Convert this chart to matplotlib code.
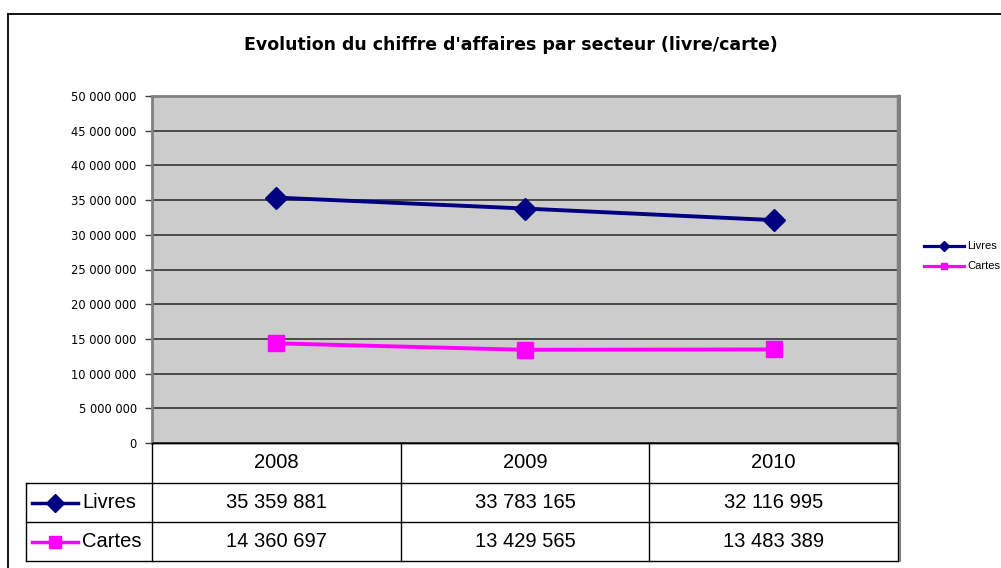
import matplotlib
matplotlib.use("Agg")
from matplotlib import pyplot as plt
from matplotlib.ticker import FuncFormatter, MultipleLocator

# Data
years = ["2008", "2009", "2010"]
livres = [35359881, 33783165, 32116995]
cartes = [14360697, 13429565, 13483389]
series = [("Livres", livres, "#000080", "D"), ("Cartes", cartes, "#FF00FF", "s")]


def fmt(v):
    return f"{int(v):,}".replace(",", " ")


W, H = 1001, 568
fig = plt.figure(figsize=(W / 100, H / 100), dpi=100)

# plot area in pixel coords
px0, px1, py0, py1 = 152, 898, 96, 443
ax = fig.add_axes([px0 / W, 1 - py1 / H, (px1 - px0) / W, (py1 - py0) / H])
ax.set_facecolor("#CCCCCC")
x = list(range(len(years)))
for name, vals, col, mk in series:
    ax.plot(x, vals, color=col, lw=2.8, marker=mk, ms=11, mec=col, mfc=col, zorder=3)

ax.set_xlim(-0.5, len(years) - 0.5)
ax.set_ylim(0, 50000000)
ax.yaxis.set_major_locator(MultipleLocator(5000000))
ax.yaxis.set_major_formatter(FuncFormatter(lambda v, p: fmt(v)))
ax.grid(axis="y", color="#404040", lw=1.3)
ax.set_axisbelow(True)
ax.set_xticks([])
ax.tick_params(axis="y", length=5, width=1, color="#404040", pad=6,
               labelsize=8.3, labelcolor="#000000")
for lab in ax.get_yticklabels():
    lab.set_family("DejaVu Sans")
for s in ["left", "top"]:
    ax.spines[s].set_color("#808080")
    ax.spines[s].set_linewidth(2)
ax.spines["right"].set_color("#808080")
ax.spines["right"].set_linewidth(2.5)
ax.spines["bottom"].set_color("#000000")
ax.spines["bottom"].set_linewidth(1)

# overlay in pixel coordinates for frame, title, table, legend
ov = fig.add_axes([0, 0, 1, 1], facecolor="none")
ov.set_xlim(0, W)
ov.set_ylim(H, 0)
ov.axis("off")

# outer frame (cut at right and bottom)
ov.plot([8, 8], [14, H + 5], color="#000000", lw=1.3)
ov.plot([8, W + 5], [14, 14], color="#000000", lw=1.3)

ov.text(511, 45, "Evolution du chiffre d'affaires par secteur (livre/carte)",
        ha="center", va="center", fontsize=12.5, fontweight="bold",
        family="DejaVu Sans")

# table
tf = "Liberation Sans"
colw = (px1 - px0) / len(years)
rows_y = [443, 483, 522, 561]
lab_x0 = 26
lc = "#000000"
ov.plot([px0, px1], [rows_y[0], rows_y[0]], color=lc, lw=1)
for yy in rows_y[1:]:
    ov.plot([lab_x0, px1], [yy, yy], color=lc, lw=1)
for i in range(len(years) + 1):
    xx = px0 + i * colw
    ov.plot([xx, xx], [rows_y[0], rows_y[-1]], color=lc, lw=1)
ov.plot([px1 + 1.5, px1 + 1.5], [py0, rows_y[-1]], color="#808080", lw=1.5)
ov.plot([lab_x0, lab_x0], [rows_y[1], rows_y[-1]], color=lc, lw=1)

for i, yr in enumerate(years):
    cx = px0 + (i + 0.5) * colw
    ov.text(cx, (rows_y[0] + rows_y[1]) / 2, yr, ha="center", va="center",
            fontsize=14.5, family=tf)
for r, (name, vals, col, mk) in enumerate(series):
    cy = (rows_y[r + 1] + rows_y[r + 2]) / 2
    ov.plot([32, 78], [cy, cy], color=col, lw=2.5)
    ov.plot([55], [cy], marker=mk, color=col, ms=9 if mk == "D" else 8)
    ov.text(82, cy, name, ha="left", va="center", fontsize=14.5, family=tf)
    for i, v in enumerate(vals):
        cx = px0 + (i + 0.5) * colw
        ov.text(cx, cy, fmt(v), ha="center", va="center", fontsize=14.5, family=tf)

# legend on the right
for r, (name, vals, col, mk) in enumerate(series):
    ly = 246 + r * 20
    ov.plot([924, 964], [ly, ly], color=col, lw=2.3)
    ov.plot([944], [ly], marker=mk, color=col, ms=5)
    ov.text(967, ly, name, ha="left", va="center", fontsize=8, family=tf)

fig.savefig("out.png", dpi=100)
